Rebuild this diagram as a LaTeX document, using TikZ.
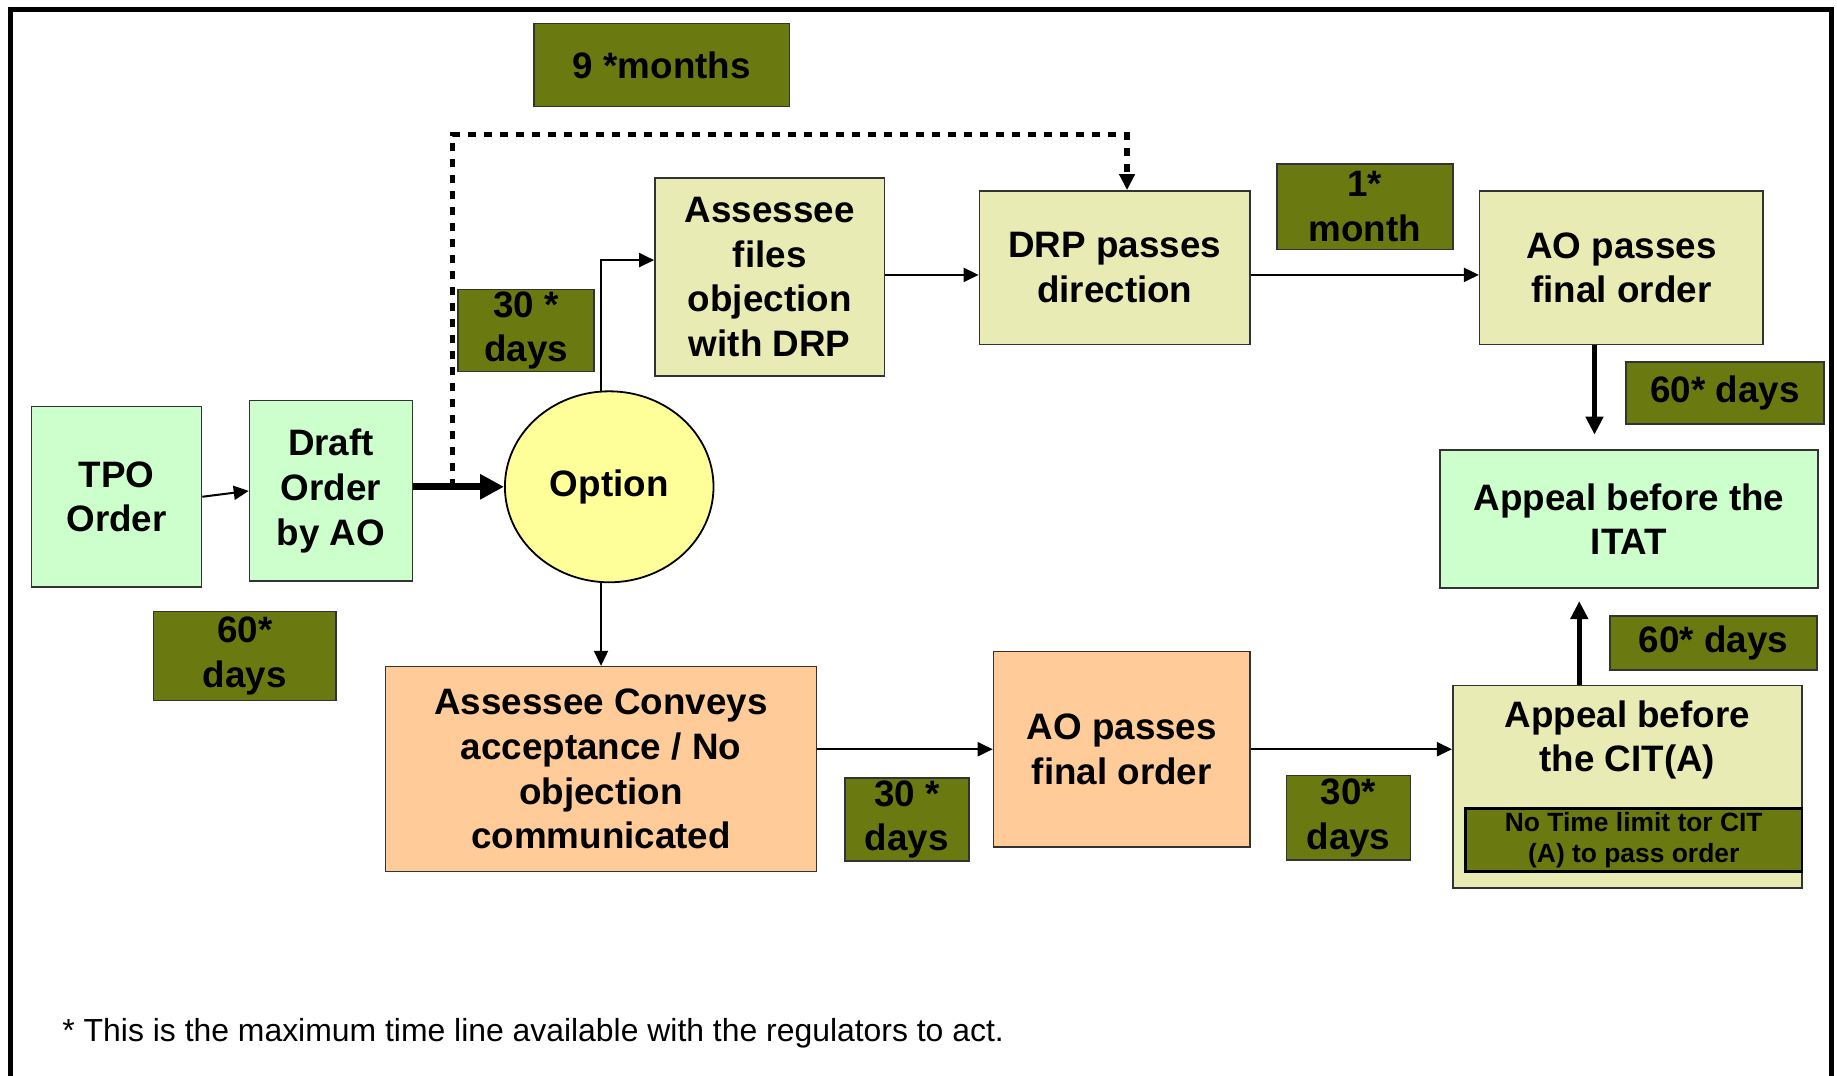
\documentclass[tikz,border=0pt]{standalone}
\usepackage{fontspec}
\setmainfont{Liberation Sans}
\usetikzlibrary{arrows.meta,shapes.geometric,calc}
\definecolor{lgreen}{RGB}{204,255,204}
\definecolor{olivec}{RGB}{107,122,16}
\definecolor{lyel}{RGB}{232,236,180}
\definecolor{yelc}{RGB}{255,255,153}
\definecolor{peachc}{RGB}{255,204,153}
\newcommand{\bigfont}{\fontsize{18.4}{22.3}\selectfont\bfseries}
\newcommand{\smallbfont}{\fontsize{13.2}{15.8}\selectfont\bfseries}
\newcommand{\mybox}[7]{%
  \pgfmathsetmacro\mbw{(#4-#2)*0.5858}%
  \pgfmathsetmacro\mbh{(#5-#3)*0.5858}%
  \node[#6, minimum width=\mbw pt, minimum height=\mbh pt] (#1) at ({(#2+#4)/2},{(#3+#5)/2}) {#7};%
}
\tikzset{
  boxbase/.style={draw=black!80, line width=0.8pt, inner sep=0pt, align=center, font=\bigfont},
  greenbox/.style={boxbase, fill=lgreen},
  olivebox/.style={boxbase, fill=olivec},
  lyelbox/.style={boxbase, fill=lyel},
  peachbox/.style={boxbase, fill=peachc},
  thinarr/.style={line width=1pt, -{Triangle[length=7.5pt,width=7pt]}},
  fatarr/.style={line width=3.5pt, -{Triangle[length=12pt,width=12pt]}},
  vertarr/.style={line width=2.6pt, -{Triangle[length=9pt,width=8.5pt]}},
  dotarr/.style={line width=2.7pt, dash pattern=on 4pt off 4pt, -{Triangle[length=8pt,width=7.5pt]}},
}
\begin{document}
\begin{tikzpicture}[x=0.5858pt,y=-0.5858pt]
\clip (0,0) rectangle (1568,918);
\fill[white] (0,0) rectangle (1568,918);
% frame
\draw[line width=2.4pt] (9,940) -- (9,8) -- (1563.5,8) -- (1563.5,940);

% boxes
\mybox{months}{456}{20}{674}{91}{olivebox}{9 *months}
\mybox{afiles}{559}{152}{755}{321}{lyelbox}{Assessee\\files\\objection\\with DRP}
\mybox{drp}{836}{163}{1067}{294}{lyelbox}{DRP passes\\direction}
\mybox{onemonth}{1090}{140}{1240}{213}{olivebox}{1*\\month}
\mybox{aotop}{1263}{163}{1505}{294}{lyelbox}{AO passes\\final order}
\mybox{thirtyA}{391}{247}{507}{317}{olivebox}{30 *\\days}
\mybox{tpo}{27}{347}{172}{501}{greenbox}{TPO\\Order}
\mybox{draft}{213}{342}{352}{496}{greenbox}{Draft\\Order\\by AO}
\node[ellipse, draw=black, line width=0.9pt, fill=yelc, inner sep=0pt,
      minimum width=104.3pt, minimum height=95.5pt, font=\bigfont] (option) at (520,415.5) {Option};
\mybox{sixtyA}{131}{522}{287}{598}{olivebox}{60*\\days}
\mybox{sixtyB}{1388}{309}{1557}{362}{olivebox}{60* days}
\mybox{itat}{1229}{384}{1552}{502}{greenbox}{Appeal before the\\ITAT}
\mybox{sixtyC}{1374}{526}{1551}{572}{olivebox}{60* days}
\mybox{conveys}{329}{569}{697}{744}{peachbox}{Assessee Conveys\\acceptance / No\\objection\\communicated}
\mybox{thirtyB}{721}{664}{827}{735}{olivebox}{30 *\\days}
\mybox{aobot}{848}{556}{1067}{723}{peachbox}{AO passes\\final order}
\mybox{thirtyC}{1098}{662}{1204}{734}{olivebox}{30*\\days}
\mybox{cit}{1240}{585}{1538}{758}{lyelbox}{}
\node[font=\bigfont, align=center, inner sep=0pt] (cittext) at (1389,631.5) {Appeal before\\the CIT(A)};
\mybox{nolimit}{1251}{690}{1538}{744}{olivebox, draw=black, line width=1.2pt, font=\smallbfont}{No Time limit tor CIT\\(A) to pass order}

% connectors
\draw[thinarr] (tpo.east) -- (draft.west);
\coordinate (dstart) at (386,415.5);
\coordinate (dcorner) at (386,115);
\draw[fatarr] (draft.east |- option.west) -- (option.west);
\draw[dotarr] (dstart) -- (dcorner) -| ([xshift=6.15pt]drp.north);
\coordinate (otop) at (513,335);
\draw[thinarr] (otop) |- ([yshift=8.5pt]afiles.west);
\draw[thinarr] (option.south -| conveys.north) -- (conveys.north);
\draw[thinarr] ([yshift=-3.6pt]drp.west -| afiles.east) -- ([yshift=-3.6pt]drp.west);
\draw[thinarr] ([yshift=-3.6pt]drp.east) -- ([yshift=-3.6pt]aotop.west);
\draw[thinarr] (conveys.east |- aobot.west) -- (aobot.west);
\draw[thinarr] (aobot.east) -- (aobot.east -| cit.west);
\coordinate (itattipA) at (1361,371);
\draw[vertarr] (aotop.south -| itattipA) -- (itattipA);
\coordinate (itattipB) at (1348,513);
\draw[vertarr] (cit.north -| itattipB) -- (itattipB);

% footnote
\node[anchor=base west, inner sep=0pt, font=\fontsize{15.95}{18}\selectfont] (note) at (53,889)
  {* This is the maximum time line available with the regulators to act.};
\end{tikzpicture}
\end{document}
